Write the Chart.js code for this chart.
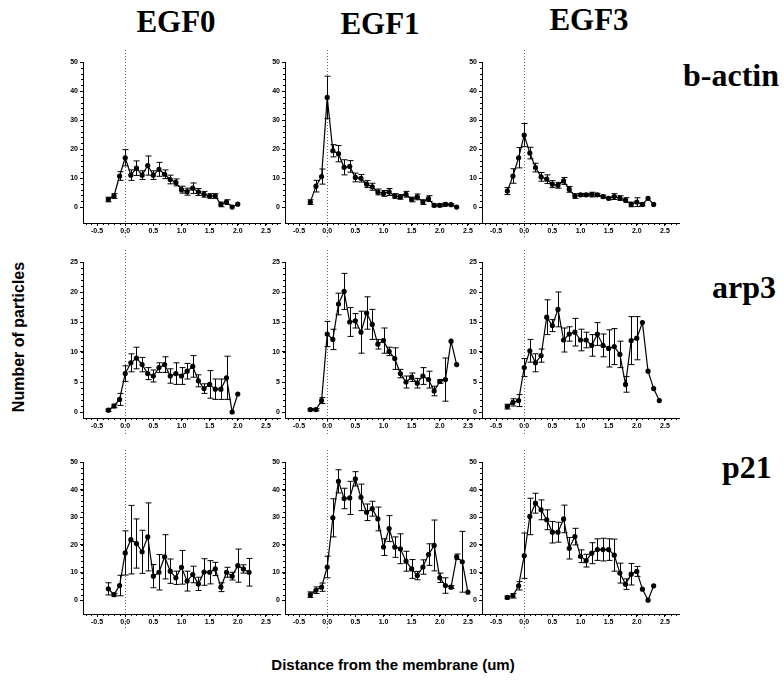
<!DOCTYPE html>
<html>
<head>
<meta charset="utf-8">
<script src="https://cdn.jsdelivr.net/npm/chart.js@4.4.1/dist/chart.umd.min.js"></script>
<style>
  body { margin: 0; background: #fff; }
  #page { position: relative; width: 784px; height: 685px; overflow: hidden; background: #fff; }
  canvas { position: absolute; }
  .serif { position: absolute; font-family: "Liberation Serif", "DejaVu Serif", serif; font-weight: bold; line-height: 1; white-space: nowrap; color: #000; }
  .sans { position: absolute; font-family: "Liberation Sans", Arial, sans-serif; font-weight: bold; line-height: 1; white-space: nowrap; color: #000; }
</style>
</head>
<body>
<div id="page">
  <div class="serif" style="font-size:31px;left:176px;top:6px;transform:translateX(-50%)">EGF0</div>
  <div class="serif" style="font-size:31px;left:380px;top:8px;transform:translateX(-50%)">EGF1</div>
  <div class="serif" style="font-size:31px;left:589px;top:4px;transform:translateX(-50%)">EGF3</div>
  <div class="serif" style="font-size:32px;left:683px;top:59px">b-actin</div>
  <div class="serif" style="font-size:32px;left:712px;top:271px">arp3</div>
  <div class="serif" style="font-size:32px;left:722px;top:451px">p21</div>
  <div class="sans" style="font-size:16px;left:19px;top:337px;transform:translate(-50%,-50%) rotate(-90deg)">Number of particles</div>
  <div class="sans" style="font-size:15px;left:393px;top:664px;transform:translate(-50%,-50%)">Distance from the membrane (um)</div>
</div>
<script>
// distancia a la membrana (um), un punto cada 0.1
const distance = [-0.3, -0.2, -0.1, 0.0, 0.1, 0.2, 0.3, 0.4, 0.5, 0.6, 0.7, 0.8, 0.9, 1.0,
    1.1, 1.2, 1.3, 1.4, 1.5, 1.6, 1.7, 1.8, 1.9, 2.0, 2.1, 2.2, 2.3, 2.4, 2.5];

const xTicks = [-0.5, 0.0, 0.5, 1.0, 1.5, 2.0, 2.5];
const yTicks50 = [0, 10, 20, 30, 40, 50];
const yTicks25 = [0, 5, 10, 15, 20, 25];

// b-actin
const actinEgf0 = [2.6, 3.8, 10.7, 17, 11, 13.4, 11, 14.3, 11, 13, 11.3, 9.5, 8.5, 6, 5.3, 6.5, 5.2, 4.4, 3.8, 3.8, 0.9, 1.7, 0, 1];
const actinEgf0Err = [0.8, 0.8, 1.5, 2.8, 1.8, 2.5, 1.5, 3.3, 1.5, 2.4, 1.5, 1.5, 1.2, 1.2, 1.2, 1.8, 1.2, 1, 0.8, 0.8, 0.8, 0.8, 0, 0];
const actinEgf1 = [1.7, 7.2, 10.5, 37.8, 19.4, 18.4, 13.7, 14, 10.2, 9.9, 7.9, 7, 5.2, 4.7, 5.2, 3.8, 3.5, 4.4, 2.6, 3.5, 1.7, 2.9, 0.6, 0.6, 0.9, 0.8, 0];
const actinEgf1Err = [0.8, 2, 2.6, 7.3, 2.1, 2.8, 2.6, 2, 1.5, 1.3, 1.2, 1.2, 1, 1, 1.2, 0.8, 0.8, 1, 0.8, 1, 0.8, 1, 0.5, 0.5, 0.5, 0.3, 0];
const actinEgf3 = [5.5, 10.7, 17, 24.8, 18.6, 13.6, 10.4, 9.6, 7.9, 7.5, 9, 6.1, 3.8, 4.2, 4.2, 4.3, 4.2, 3.6, 3, 3.6, 3.1, 2.4, 0.9, 1.7, 0.9, 3, 0.9];
const actinEgf3Err = [1.2, 2.5, 3.5, 4, 2, 1.5, 1.5, 1.5, 1.2, 1, 1.2, 1, 0.8, 0.5, 0.5, 0.8, 0.5, 0.5, 0.5, 1, 0.8, 0.8, 0.8, 1.5, 0.5, 0, 0];

// arp3
const arpEgf0 = [0.3, 1, 2.1, 6.4, 8.2, 9, 7.9, 6.4, 6, 7.4, 7.9, 6, 6.4, 6, 6.8, 7.6, 5.2, 3.9, 4.6, 3.8, 3.8, 5.7, 0, 3];
const arpEgf0Err = [0.2, 0.3, 1, 1.3, 1.5, 1.8, 1.2, 1, 1, 0.8, 1.3, 1.2, 1.8, 1.4, 1.3, 1.8, 1, 0.8, 2.3, 1.7, 1.7, 3.6, 0, 0];
const arpEgf1 = [0.4, 0.4, 1.9, 13, 12.1, 18, 20.1, 15, 15.2, 13.3, 16.5, 14.6, 11.3, 11.9, 10.1, 8.9, 6.4, 5, 5.8, 4.8, 6, 5.4, 3.5, 5.1, 5.4, 11.8, 7.9];
const arpEgf1Err = [0.2, 0.2, 0.5, 2.1, 1.7, 1.8, 3, 2.4, 1.2, 3.5, 2.7, 2.5, 0.8, 2.1, 0.7, 1.8, 0.7, 1, 0.7, 0.8, 1.4, 1.4, 0.8, 0.3, 3.6, 0, 0];
const arpEgf3 = [0.9, 1.6, 1.9, 7.4, 10.2, 8.2, 9.4, 15.8, 14.4, 17.1, 12, 13, 13.3, 12, 12, 11.1, 13, 11.1, 10.6, 10.9, 9.6, 4.6, 11.9, 12.3, 14.9, 6.8, 3.9, 1.9];
const arpEgf3Err = [0.4, 0.6, 1, 1.5, 1.9, 1.5, 1.1, 2.9, 1, 2.9, 2, 1.2, 2.3, 1.8, 1.3, 1.8, 1.9, 1.9, 3.1, 3, 2.2, 1.3, 4, 3.6, 0, 0, 0, 0];

// p21
const p21Egf0 = [4.1, 2, 5.3, 17.1, 21.9, 20.5, 17.5, 22.9, 8.7, 10.1, 15.7, 10.5, 8.1, 11.9, 6.9, 9.3, 5.9, 10.2, 10.1, 11.3, 4.7, 10.1, 8.7, 12.5, 11.3, 10.1];
const p21Egf0Err = [2.2, 0.5, 3.7, 8, 12.4, 8.9, 7.8, 12.3, 4.2, 6.4, 8, 4.4, 2.4, 6.1, 3.6, 3, 2.4, 4.8, 4.2, 2.4, 1.6, 1.8, 1.4, 6, 1.5, 5];
const p21Egf1 = [2, 3.6, 4.7, 12, 29.8, 43, 36.8, 37, 43.9, 37.2, 31.8, 33.1, 29.4, 19.2, 25.9, 19.2, 18.6, 14.1, 11.3, 8.9, 12, 16.5, 19.8, 8.1, 5.3, 4.7, 15.7, 13.9, 2.9];
const p21Egf1Err = [1, 1.2, 1.5, 3.9, 6.9, 4.2, 3.7, 6, 2.6, 4.8, 3, 2.7, 4.3, 3, 4.7, 3.7, 5.4, 3.6, 3.4, 1.5, 2.6, 3.9, 9.2, 1.7, 2.8, 0.5, 1, 11, 0];
const p21Egf3 = [1, 1.6, 5.2, 16.1, 30.3, 35.1, 32.7, 29.1, 24.6, 24.6, 29.4, 18.8, 23, 15.9, 14.3, 17, 18.3, 18.3, 18.3, 16.3, 9.8, 5.8, 9.4, 10.4, 4, 0, 5.2];
const p21Egf3Err = [0.5, 0.8, 1.5, 8.2, 6.6, 3.6, 3.6, 3.6, 3.9, 3.6, 5, 3.9, 3, 2.3, 2.3, 3.8, 3.9, 4.1, 3.9, 5.8, 3.6, 1.9, 3.9, 1.8, 0, 0, 0];

// posiciones de los paneles en la página
const colLeft = [83, 285, 482];
const plotWidth = 197;
const rows = [
    { top: 62, bottom: 223, min: -5.5, max: 50, ticks: yTicks50, minor: 2, series: [[actinEgf0, actinEgf0Err], [actinEgf1, actinEgf1Err], [actinEgf3, actinEgf3Err]] },
    { top: 262, bottom: 418, min: -1, max: 25, ticks: yTicks25, minor: 1, series: [[arpEgf0, arpEgf0Err], [arpEgf1, arpEgf1Err], [arpEgf3, arpEgf3Err]] },
    { top: 462, bottom: 614, min: -5, max: 50, ticks: yTicks50, minor: 2, series: [[p21Egf0, p21Egf0Err], [p21Egf1, p21Egf1Err], [p21Egf3, p21Egf3Err]] }
];

const padTop = 12, yAxisW = 26, xAxisH = 20, padRight = 6;

// línea punteada en x = 0 (la membrana) y marcas menores de los ejes
const membraneLine = {
    id: 'membraneLine',
    beforeDatasetsDraw(chart, args, opts) {
        const ctx = chart.ctx;
        const xs = chart.scales.x, ys = chart.scales.y;
        const area = chart.chartArea;
        const px = xs.getPixelForValue(0);
        ctx.save();
        ctx.strokeStyle = '#666';
        ctx.lineWidth = 1;
        ctx.setLineDash([1, 2]);
        ctx.beginPath();
        ctx.moveTo(Math.round(px) + 0.5, 0);
        ctx.lineTo(Math.round(px) + 0.5, chart.height - 4);
        ctx.stroke();
        ctx.setLineDash([]);
        ctx.strokeStyle = '#000';
        ctx.beginPath();
        for (let v = -0.7; v <= 2.75; v += 0.1) {
            const x = Math.round(xs.getPixelForValue(v)) + 0.5;
            ctx.moveTo(x, area.bottom); ctx.lineTo(x, area.bottom + 2);
        }
        for (let v = 0; v <= ys.max + 0.01; v += opts.minor) {
            const y = Math.round(ys.getPixelForValue(v)) + 0.5;
            ctx.moveTo(area.left, y); ctx.lineTo(area.left - 2, y);
        }
        ctx.stroke();
        ctx.restore();
    }
};

// barras de error
const errorBars = {
    id: 'errorBars',
    afterDatasetsDraw(chart) {
        const ctx = chart.ctx;
        const xs = chart.scales.x, ys = chart.scales.y;
        chart.data.datasets.forEach(ds => {
            ctx.save();
            ctx.strokeStyle = '#000';
            ctx.lineWidth = 1;
            ds.data.forEach((p, i) => {
                const e = ds.errors[i];
                if (!e) return;
                const px = Math.round(xs.getPixelForValue(p.x)) + 0.5;
                const top = ys.getPixelForValue(p.y + e);
                const bot = ys.getPixelForValue(p.y - e);
                ctx.beginPath();
                ctx.moveTo(px, top); ctx.lineTo(px, bot);
                ctx.moveTo(px - 3, top); ctx.lineTo(px + 3, top);
                ctx.moveTo(px - 3, bot); ctx.lineTo(px + 3, bot);
                ctx.stroke();
            });
            ctx.restore();
        });
    }
};

const page = document.getElementById('page');
const tickFont = { family: 'Liberation Sans', size: 7, weight: 'bold' };

rows.forEach(row => {
    row.series.forEach(([values, errors], c) => {
        const canvas = document.createElement('canvas');
        const w = yAxisW + plotWidth + padRight;
        const h = padTop + (row.bottom - row.top) + xAxisH;
        canvas.width = w;
        canvas.height = h;
        canvas.style.left = (colLeft[c] - yAxisW) + 'px';
        canvas.style.top = (row.top - padTop) + 'px';
        canvas.style.width = w + 'px';
        canvas.style.height = h + 'px';
        page.appendChild(canvas);

        new Chart(canvas, {
            type: 'line',
            data: {
                datasets: [{
                    data: values.map((v, i) => ({ x: distance[i], y: v })),
                    errors: errors,
                    borderColor: '#000',
                    borderWidth: 1.2,
                    pointRadius: 2,
                    pointBackgroundColor: '#000',
                    pointBorderColor: '#000',
                    tension: 0,
                    clip: false
                }]
            },
            options: {
                responsive: false,
                animation: false,
                devicePixelRatio: 1,
                layout: { padding: { top: padTop, right: padRight, left: 0, bottom: 0 } },
                plugins: {
                    legend: { display: false },
                    tooltip: { enabled: false },
                    membraneLine: { minor: row.minor }
                },
                scales: {
                    x: {
                        type: 'linear',
                        min: -0.75,
                        max: 2.75,
                        afterBuildTicks: s => { s.ticks = xTicks.map(v => ({ value: v })); },
                        afterFit: s => { s.height = xAxisH; },
                        border: { color: '#000', width: 1 },
                        grid: { drawOnChartArea: false, color: '#000', tickLength: 3 },
                        ticks: { font: tickFont, color: '#000', padding: 1, maxRotation: 0,
                            callback: v => v.toFixed(1) }
                    },
                    y: {
                        min: row.min,
                        max: row.max,
                        afterBuildTicks: s => { s.ticks = row.ticks.map(v => ({ value: v })); },
                        afterFit: s => { s.width = yAxisW; },
                        border: { color: '#000', width: 1 },
                        grid: { drawOnChartArea: false, color: '#000', tickLength: 3 },
                        ticks: { font: tickFont, color: '#000', padding: 2 }
                    }
                }
            },
            plugins: [membraneLine, errorBars]
        });
    });
});
</script>
</body>
</html>
